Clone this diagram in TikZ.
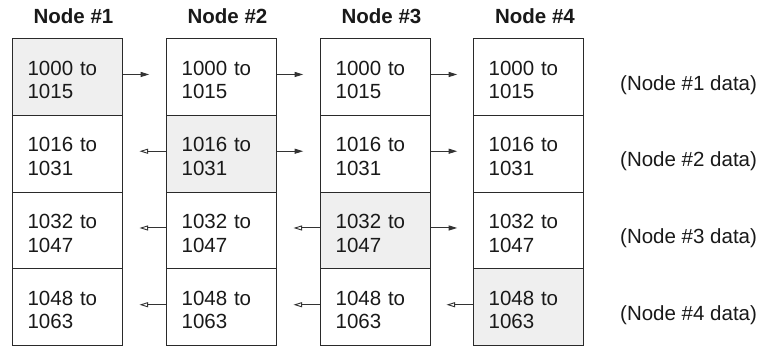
\documentclass[tikz,border=0pt]{standalone}
\usepackage{fontspec}
\setmainfont{Liberation Sans}
\usetikzlibrary{arrows.meta}
\definecolor{shade}{HTML}{EFEFEF}
\definecolor{edge}{HTML}{2A2A2A}
\definecolor{arr}{HTML}{333333}
\tikzset{
  cell/.style={draw=edge, line width=1.2pt, minimum width=110pt, minimum height=76.75pt,
    text width=80pt, inner xsep=15pt, inner ysep=0pt, align=left, anchor=north west,
    font=\fontsize{20.5}{23.5}\selectfont, text=black!90},
  hot/.style={cell, fill=shade},
  head/.style={font=\fontsize{20.5}{23}\selectfont\bfseries, anchor=base, inner sep=0pt, text=black!90},
  dlabel/.style={font=\fontsize{20.5}{23}\selectfont, anchor=base west, inner sep=0pt, text=black!90},
  rarr/.style={draw=arr, line width=1pt, -{Triangle[length=8.5pt,width=5pt]}},
  larr/.style={draw=arr, line width=1pt, -{Triangle[open,length=8.5pt,width=5pt,line width=0.9pt]}},
}
\newcommand\ct[2]{\rule{0pt}{20pt}#1\\#2}
\begin{document}
\begin{tikzpicture}[x=1pt,y=-1pt]
\useasboundingbox (0,0) rectangle (762,346);
% headings
\node[head] (h1) at (73.5,23.3) {Node \#1};
\node[head] (h2) at (227.5,23.3) {Node \#2};
\node[head] (h3) at (381.5,23.3) {Node \#3};
\node[head] (h4) at (535,23.3) {Node \#4};
% column 1
\node[hot]  (c11) at (12,38) {\ct{1000 to}{1015}};
\node[cell] (c12) at (12,114.75) {\ct{1016 to}{1031}};
\node[cell] (c13) at (12,191.5) {\ct{1032 to}{1047}};
\node[cell] (c14) at (12,268.25) {\ct{1048 to}{1063}};
% column 2
\node[cell] (c21) at (166,38) {\ct{1000 to}{1015}};
\node[hot]  (c22) at (166,114.75) {\ct{1016 to}{1031}};
\node[cell] (c23) at (166,191.5) {\ct{1032 to}{1047}};
\node[cell] (c24) at (166,268.25) {\ct{1048 to}{1063}};
% column 3
\node[cell] (c31) at (320,38) {\ct{1000 to}{1015}};
\node[cell] (c32) at (320,114.75) {\ct{1016 to}{1031}};
\node[hot]  (c33) at (320,191.5) {\ct{1032 to}{1047}};
\node[cell] (c34) at (320,268.25) {\ct{1048 to}{1063}};
% column 4
\node[cell] (c41) at (473,38) {\ct{1000 to}{1015}};
\node[cell] (c42) at (473,114.75) {\ct{1016 to}{1031}};
\node[cell] (c43) at (473,191.5) {\ct{1032 to}{1047}};
\node[hot]  (c44) at (473,268.25) {\ct{1048 to}{1063}};
% data labels
\node[dlabel] (d1) at (620,90) {(Node \#1 data)};
\node[dlabel] (d2) at (620,166.75) {(Node \#2 data)};
\node[dlabel] (d3) at (620,243.5) {(Node \#3 data)};
\node[dlabel] (d4) at (620,320.25) {(Node \#4 data)};
% row 1
\draw[rarr] ([yshift=2.5pt]c11.east) -- ++(26,0);
\draw[rarr] ([yshift=2.5pt]c21.east) -- ++(26,0);
\draw[rarr] ([yshift=2.5pt]c31.east) -- ++(26,0);
% row 2
\draw[larr] ([yshift=2.5pt]c22.west) -- ++(-26.5,0);
\draw[rarr] ([yshift=2.5pt]c22.east) -- ++(26,0);
\draw[rarr] ([yshift=2.5pt]c32.east) -- ++(26,0);
% row 3
\draw[larr] ([yshift=2.5pt]c23.west) -- ++(-26.5,0);
\draw[larr] ([yshift=2.5pt]c33.west) -- ++(-26.5,0);
\draw[rarr] ([yshift=2.5pt]c33.east) -- ++(26,0);
% row 4
\draw[larr] ([yshift=2.5pt]c24.west) -- ++(-26.5,0);
\draw[larr] ([yshift=2.5pt]c34.west) -- ++(-26.5,0);
\draw[larr] ([yshift=2.5pt]c44.west) -- ++(-26.5,0);
\end{tikzpicture}
\end{document}
